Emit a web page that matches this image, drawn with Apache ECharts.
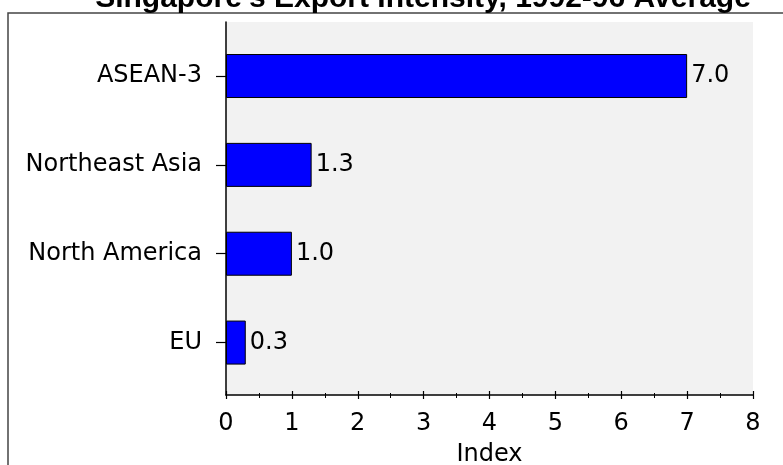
<!DOCTYPE html>
<html>
<head>
<meta charset="utf-8">
<script src="https://cdn.jsdelivr.net/npm/echarts@6/dist/echarts.min.js"></script>
<style>
  html, body { margin: 0; padding: 0; background: #fff; }
  #chart { width: 783px; height: 465px; }
</style>
</head>
<body>
<div id="chart"></div>
<script>
// Regions, top to bottom, and their export intensity index (1992-96 average)
const regions = ['ASEAN-3', 'Northeast Asia', 'North America', 'EU'];
const intensity = [7.0, 1.3, 1.0, 0.3];
const indexTicks = [0, 1, 2, 3, 4, 5, 6, 7, 8];

const labelFont = 'DejaVu Sans, Liberation Sans, sans-serif';
const chart = echarts.init(document.getElementById('chart'), null, { renderer: 'canvas' });

const plotLeft = 226, plotRight = 30;

chart.setOption({
  animation: false,
  backgroundColor: '#fff',
  graphic: [
    {
      type: 'rect',
      shape: { x: 8, y: 13, width: 820, height: 500 },
      style: { fill: null, stroke: '#444', lineWidth: 1.5 },
      z: 0
    },
    {
      type: 'text',
      x: 423, y: -1,
      style: {
        text: "Singapore's Export Intensity, 1992-96 Average",
        font: 'bold 30px "Liberation Sans", Arial, sans-serif',
        fill: '#000',
        align: 'center',
        verticalAlign: 'middle'
      },
      z: 10
    }
  ],
  grid: [
    // frame of the plot: grey panel, axis lines, x ticks
    { left: plotLeft, right: plotRight, top: 22, bottom: 70, show: true,
      backgroundColor: '#f2f2f2', borderWidth: 0, outerBoundsMode: 'none', containLabel: false },
    // bar area, inset so bars sit in evenly spaced bands
    { left: plotLeft, right: plotRight, top: 31.6, bottom: 78, outerBoundsMode: 'none', containLabel: false }
  ],
  xAxis: [
    {
      gridIndex: 0, type: 'value', min: indexTicks[0], max: indexTicks[indexTicks.length - 1], interval: 1,
      axisLine: { show: true, lineStyle: { color: '#000', width: 1.5 } },
      axisTick: { show: true, inside: false, length: 4, lineStyle: { color: '#000', width: 1.2 } },
      minorTick: { show: true, splitNumber: 2, length: 3, lineStyle: { color: '#000', width: 1 } },
      splitLine: { show: false },
      axisLabel: { show: true, margin: 17, fontSize: 24, color: '#000', fontFamily: labelFont },
      name: 'Index', nameLocation: 'middle', nameGap: 48,
      nameTextStyle: { fontSize: 24, color: '#000', fontFamily: labelFont }
    },
    {
      gridIndex: 0, type: 'value', min: 0, max: 8, interval: 1, position: 'bottom',
      axisLine: { show: false },
      axisTick: { show: true, inside: true, length: 4, lineStyle: { color: '#000', width: 1.2 } },
      minorTick: { show: true, splitNumber: 2, length: 2, lineStyle: { color: '#000', width: 1 } },
      splitLine: { show: false },
      axisLabel: { show: false }
    },
    {
      gridIndex: 1, type: 'value', min: 0, max: 8, show: false
    }
  ],
  yAxis: [
    {
      gridIndex: 0, type: 'value', min: 0, max: 1,
      axisLine: { show: true, onZero: false, lineStyle: { color: '#000', width: 1.5 } },
      axisTick: { show: false }, axisLabel: { show: false }, splitLine: { show: false }
    },
    {
      gridIndex: 1, type: 'category', data: regions, inverse: true,
      axisLine: { show: false },
      axisTick: { show: true, alignWithLabel: true, length: 10, lineStyle: { color: '#000', width: 1.2 } },
      axisLabel: { margin: 24, fontSize: 24, color: '#000', fontFamily: labelFont },
      splitLine: { show: false }
    }
  ],
  series: [
    {
      type: 'bar',
      xAxisIndex: 2, yAxisIndex: 1,
      data: intensity,
      barWidth: 44,
      itemStyle: { color: '#0000ff', borderColor: '#000', borderWidth: 1 },
      label: {
        show: true, position: 'right', distance: 4,
        fontSize: 24, color: '#000', fontFamily: labelFont,
        formatter: p => p.value.toFixed(1)
      }
    }
  ]
});
</script>
</body>
</html>
